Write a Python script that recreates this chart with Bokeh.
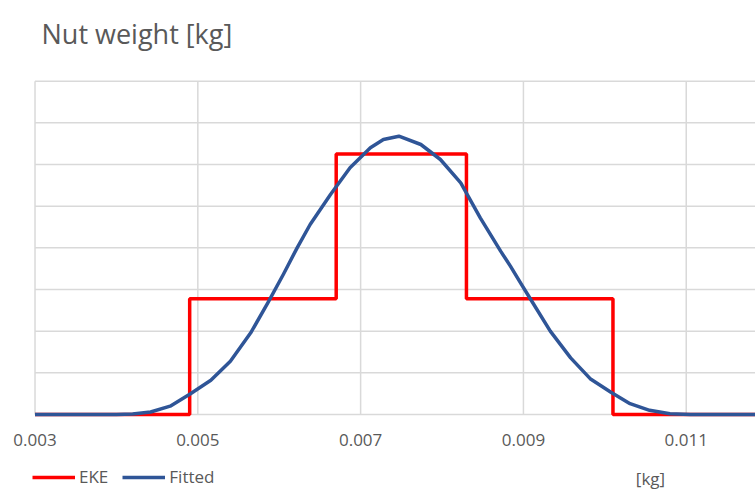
from bokeh.plotting import figure
from bokeh.models import Legend, LegendItem, Label, Range1d
from bokeh.embed import file_html
from bokeh.resources import INLINE

# ---- data ----
eke_edges = [0.003, 0.0049, 0.0067, 0.0083, 0.0101, 0.0119]
eke_density = [0, 138.9, 312.5, 138.9, 0, 0]

fit_x = [0.0030, 0.0040, 0.00420, 0.00442, 0.00466, 0.00491, 0.00516, 0.00540,
         0.00565, 0.00586, 0.00605, 0.00622, 0.00638, 0.00663, 0.00687, 0.00712,
         0.00728, 0.00747, 0.00774, 0.00798, 0.00823, 0.00847, 0.00872, 0.00884,
         0.00897, 0.00909, 0.00933, 0.00958, 0.00982, 0.01007, 0.01031, 0.01055,
         0.01080, 0.01105, 0.0119]
fit_y = [0, 0, 0.5, 3, 10, 25, 41, 64,
         98, 134, 168, 200, 228, 264, 296, 320,
         330, 334, 324, 306, 278, 236, 196, 178,
         157, 138, 100, 68, 43, 27, 13, 5,
         1, 0, 0]

x_ticks = [0.003, 0.005, 0.007, 0.009, 0.011]
x_tick_labels = ["0.003", "0.005", "0.007", "0.009", "0.011"]
y_grid = [0, 50, 100, 150, 200, 250, 300, 350, 400]

title_text = "Nut weight [kg]"
x_title = "[kg]"

FONT = "Open Sans"
GRAY = "#595959"
GRID = "#D9D9D9"
RED = "#FF0000"
BLUE = "#2F5597"

X0, X1 = 0.002576, 0.011851
Y0, Y1 = -92.4, 496.8

p = figure(width=755, height=491, output_backend="svg", toolbar_location=None,
           x_range=Range1d(X0, X1), y_range=Range1d(Y0, Y1),
           min_border_left=0, min_border_right=0, min_border_top=0, min_border_bottom=0)

p.outline_line_color = None
p.background_fill_color = "white"
p.border_fill_color = "white"
p.xaxis.visible = False
p.yaxis.visible = False
p.xgrid.visible = False
p.ygrid.visible = False

# grid lines (from the tick arrays), bounded to the plot area
x_last = X1 + 0.001
p.segment(x0=x_ticks, y0=[0] * len(x_ticks), x1=x_ticks, y1=[y_grid[-1]] * len(x_ticks),
          line_color=GRID, line_width=1.5)
p.segment(x0=[x_ticks[0]] * len(y_grid), y0=y_grid, x1=[x_last] * len(y_grid), y1=y_grid,
          line_color=GRID, line_width=1.5)

# tick labels
p.text(x=x_ticks, y=[0] * len(x_ticks), text=x_tick_labels, y_offset=25,
       text_align="center", text_baseline="middle", text_color=GRAY,
       text_font={"value": FONT}, text_font_size="17px")

r_eke = p.step(eke_edges, eke_density, mode="after", line_color=RED, line_width=3.5)
r_fit = p.line(fit_x, fit_y, line_color=BLUE, line_width=3.5, line_join="round")

legend = Legend(items=[LegendItem(label="EKE", renderers=[r_eke]),
                       LegendItem(label="Fitted", renderers=[r_fit])],
                orientation="horizontal", location=(32, 3))
legend.border_line_color = None
legend.background_fill_alpha = 0
legend.label_text_font = FONT
legend.label_text_font_size = "17px"
legend.label_text_color = GRAY
legend.glyph_width = 43
legend.glyph_height = 20
legend.label_standoff = 4
legend.spacing = 14
legend.padding = 0
legend.margin = 0
legend.label_height = 20
p.add_layout(legend)

title = Label(x=41, y=458, x_units="screen", y_units="screen", text=title_text,
              text_font=FONT, text_font_size="27px", text_color=GRAY,
              text_align="left", text_baseline="alphabetic")
p.add_layout(title)

lbl = Label(x=650, y=2, x_units="screen", y_units="screen", text=x_title,
            text_font=FONT, text_font_size="17px", text_color=GRAY,
            text_align="center", text_baseline="bottom")
p.add_layout(lbl)

open("out.html", "w").write(file_html(p, INLINE))
